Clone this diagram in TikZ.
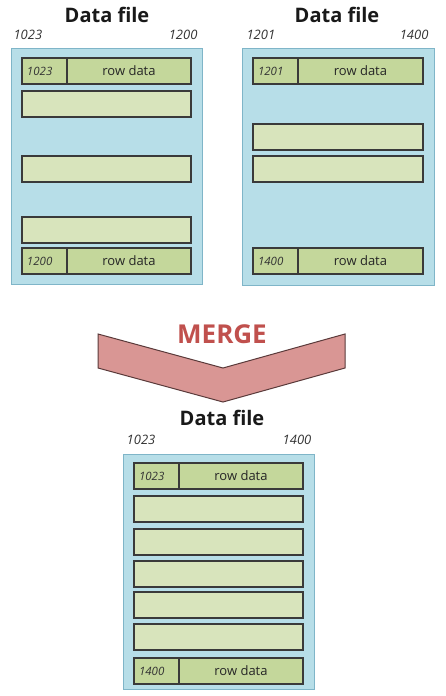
\documentclass[tikz,border=0pt]{standalone}
\usepackage{fontspec}
\setmainfont{Open Sans}
\definecolor{filefill}{HTML}{B7DEE8}
\definecolor{fileborder}{HTML}{7FB5C8}
\definecolor{rowempty}{HTML}{D8E4BC}
\definecolor{rowlabel}{HTML}{C4D79B}
\definecolor{rowborder}{HTML}{3A3A3A}
\definecolor{mergefill}{HTML}{D99694}
\definecolor{mergeborder}{HTML}{5A3A3A}
\definecolor{mergetext}{HTML}{C0504D}
\begin{document}
\begin{tikzpicture}[x=1pt,y=-1pt,
  filebox/.style={draw=fileborder, fill=filefill, line width=1pt, inner sep=0pt, outer sep=0pt, anchor=north west},
  rowbox/.style={draw=rowborder, fill=rowempty, line width=1.1pt, inner sep=0pt, outer sep=0pt, anchor=north west, minimum height=26pt},
  labbox/.style={rowbox, fill=rowlabel, text width=40pt, inner xsep=5pt, inner ysep=0pt, align=left, minimum width=45pt, font=\fontsize{11.5}{12}\selectfont\itshape, text=black!80},
  databox/.style={rowbox, fill=rowlabel, font=\fontsize{13}{14}\selectfont, text=black!85},
  title/.style={font=\fontsize{20}{22}\selectfont\bfseries, text=black!90},
  num/.style={font=\fontsize{13}{14}\selectfont\itshape, text=black!80},
  mergeshape/.style={draw=mergeborder, fill=mergefill, line width=1pt, line join=miter}
]
\useasboundingbox (0,0) rectangle (445,696);

% ---------- left file ----------
\node[title] (tA) at (107,15) {Data file};
\node[num, anchor=west] (aL) at (10,35) {1023};
\node[num, anchor=east] (aR) at (201,35) {1200};
\node[filebox, minimum width=191pt, minimum height=236pt] (fA) at (11,48) {};
\node[labbox] (a1l) at (22,58) {1023};
\node[databox, minimum width=124pt] (a1d) at (67,58) {row data};
\node[rowbox, minimum width=169pt] (a2) at (22,91) {};
\node[rowbox, minimum width=169pt] (a3) at (22,156) {};
\node[rowbox, minimum width=169pt] (a4) at (22,217) {};
\node[labbox] (a5l) at (22,248) {1200};
\node[databox, minimum width=124pt] (a5d) at (67,248) {row data};

% ---------- right file ----------
\node[title] (tB) at (337,15) {Data file};
\node[num, anchor=west] (bL) at (243,35) {1201};
\node[num, anchor=east] (bR) at (432,35) {1400};
\node[filebox, minimum width=192pt, minimum height=237pt] (fB) at (242,48) {};
\node[labbox] (b1l) at (253,58) {1201};
\node[databox, minimum width=125pt] (b1d) at (298,58) {row data};
\node[rowbox, minimum width=170pt] (b2) at (253,124) {};
\node[rowbox, minimum width=170pt] (b3) at (253,156) {};
\node[labbox] (b4l) at (253,248) {1400};
\node[databox, minimum width=125pt] (b4d) at (298,248) {row data};

% ---------- merge arrow ----------
\draw[mergeshape] (98,334) -- (223,368) -- (345,334) -- (345,368) -- (223,402) -- (98,368) -- cycle;
\node[font=\fontsize{26}{28}\selectfont\bfseries, text=mergetext] (mg) at (222,334) {MERGE};

% ---------- merged file ----------
\node[title] (tC) at (222,418) {Data file};
\node[num] (cL) at (141,440) {1023};
\node[num] (cR) at (297,440) {1400};
\node[filebox, minimum width=191pt, minimum height=235pt] (fC) at (123,454) {};
\node[labbox] (c1l) at (134,463) {1023};
\node[databox, minimum width=124pt] (c1d) at (179,463) {row data};
\node[rowbox, minimum width=169pt] (c2) at (134,496) {};
\node[rowbox, minimum width=169pt] (c3) at (134,529) {};
\node[rowbox, minimum width=169pt] (c4) at (134,561) {};
\node[rowbox, minimum width=169pt] (c5) at (134,592) {};
\node[rowbox, minimum width=169pt] (c6) at (134,624) {};
\node[labbox] (c7l) at (134,658) {1400};
\node[databox, minimum width=124pt] (c7d) at (179,658) {row data};
\end{tikzpicture}
\end{document}
